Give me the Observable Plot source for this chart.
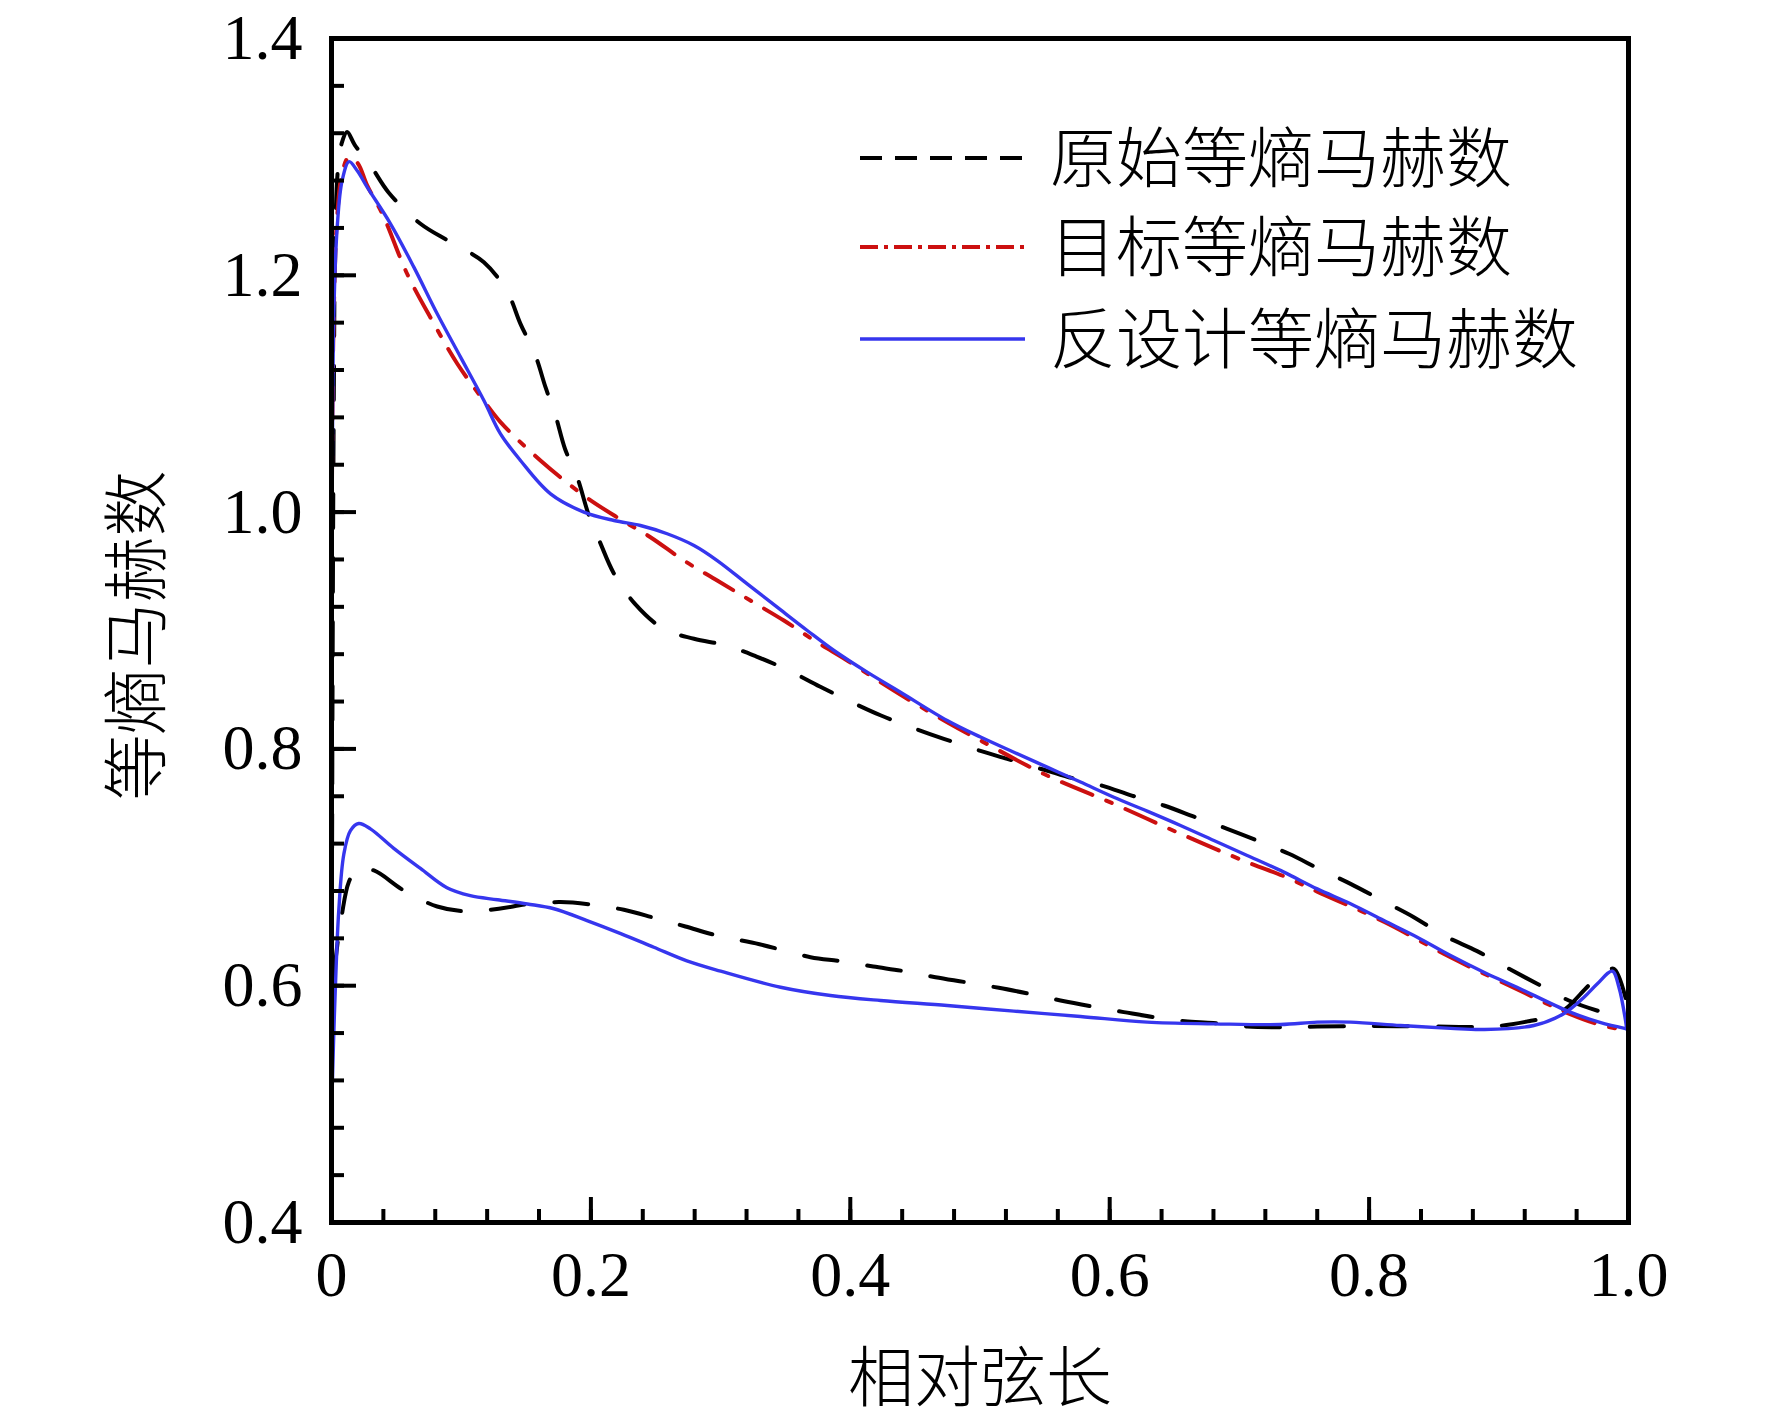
<!DOCTYPE html>
<html><head><meta charset="utf-8">
<script src="https://cdn.jsdelivr.net/npm/d3@7"></script>
<script src="https://cdn.jsdelivr.net/npm/@observablehq/plot@0.6"></script>
<style>body{margin:0;background:#fff} svg{display:block}</style>
</head><body><div id="chart"></div>
<script>
// ---- tick values and labels ----
const xTicks = [0, 0.2, 0.4, 0.6, 0.8, 1.0];
const xTickLabels = ["0", "0.2", "0.4", "0.6", "0.8", "1.0"];
const yTicks = [0.4, 0.6, 0.8, 1.0, 1.2, 1.4];
const yTickLabels = ["0.4", "0.6", "0.8", "1.0", "1.2", "1.4"];
const xMinor = d3.range(0, 26).map(i => i * 0.04);
const yMinor = d3.range(0, 26).map(i => 0.4 + i * 0.04);
const xTitle = "相对弦长";
const yTitle = "等熵马赫数";
const legendLabels = ["原始等熵马赫数", "目标等熵马赫数", "反设计等熵马赫数"];

// ---- series: [relative chord, isentropic Mach] ----
const origUpper = [[0,0.50],[0.0008,0.85],[0.0018,1.10],[0.003,1.24],[0.005,1.29],[0.008,1.312],[0.012,1.321],[0.018,1.31],[0.03,1.293],[0.044,1.27],[0.0686,1.2435],[0.0918,1.228],[0.1175,1.211],[0.1355,1.186],[0.1457,1.159],[0.1573,1.132],[0.165,1.1055],[0.1727,1.0816],[0.18,1.0535],[0.1894,1.0295],[0.1985,0.997],[0.207,0.9746],[0.2178,0.948],[0.234,0.9225],[0.256,0.9014],[0.2795,0.893],[0.3045,0.8873],[0.3277,0.878],[0.3526,0.8662],[0.3765,0.8527],[0.401,0.8395],[0.4237,0.8282],[0.449,0.8175],[0.4721,0.8085],[0.4978,0.7992],[0.521,0.7916],[0.5466,0.7832],[0.5685,0.7761],[0.594,0.769],[0.617,0.7606],[0.6418,0.7522],[0.6662,0.7423],[0.6906,0.7325],[0.7137,0.7226],[0.7382,0.7114],[0.7614,0.6987],[0.7857,0.686],[0.81,0.672],[0.8345,0.6579],[0.8576,0.6424],[0.8833,0.6292],[0.905,0.616],[0.9296,0.6016],[0.954,0.5875],[0.98,0.5776],[1.0,0.572]];
const origLower = [[0,0.50],[0.0015,0.60],[0.004,0.63],[0.008,0.66],[0.0133,0.6874],[0.02,0.699],[0.0327,0.6973],[0.0558,0.6804],[0.0815,0.6669],[0.1046,0.6627],[0.129,0.665],[0.152,0.669],[0.1766,0.6706],[0.1997,0.6686],[0.2254,0.6641],[0.2486,0.6574],[0.2729,0.65],[0.2973,0.6424],[0.33,0.635],[0.3693,0.6241],[0.3925,0.6207],[0.4177,0.6162],[0.4413,0.6123],[0.4657,0.6072],[0.4888,0.603],[0.5145,0.5982],[0.5376,0.5932],[0.5621,0.5875],[0.5865,0.5824],[0.6109,0.5777],[0.634,0.5734],[0.658,0.570],[0.68,0.5685],[0.706,0.5655],[0.7317,0.565],[0.76,0.5655],[0.8,0.566],[0.85,0.5655],[0.88,0.5652],[0.9,0.566],[0.923,0.57],[0.94,0.574],[0.9515,0.5805],[0.9707,0.6016],[0.982,0.611],[0.9887,0.6143],[0.9977,0.590],[1.0,0.572]];
const targetUpper = [[0,0.495],[0.0005,1.05],[0.002,1.18],[0.0044,1.25],[0.008,1.285],[0.0133,1.2997],[0.02,1.295],[0.0275,1.276],[0.04,1.25],[0.0583,1.2013],[0.0776,1.1618],[0.097,1.1253],[0.1175,1.094],[0.1303,1.076],[0.1611,1.0436],[0.1946,1.014],[0.22,0.9957],[0.2459,0.9788],[0.2717,0.9591],[0.2974,0.9422],[0.323,0.9253],[0.3488,0.9084],[0.3745,0.89],[0.3976,0.8747],[0.4233,0.8564],[0.449,0.839],[0.4747,0.8225],[0.5004,0.8071],[0.5518,0.7775],[0.6032,0.7536],[0.6546,0.7283],[0.706,0.7043],[0.7343,0.6925],[0.76,0.6795],[0.8114,0.654],[0.8628,0.624],[0.914,0.597],[0.955,0.576],[0.978,0.567],[1.0,0.562]];
const inverseUpper = [[0,0.49],[0.0003,0.8],[0.0005,1.0],[0.0018,1.1675],[0.0044,1.2406],[0.0082,1.28],[0.0136,1.296],[0.02,1.288],[0.0275,1.2744],[0.0455,1.2435],[0.0635,1.2069],[0.0815,1.1675],[0.0995,1.1309],[0.1175,1.0943],[0.1303,1.0661],[0.1457,1.0436],[0.1689,1.0154],[0.1946,1.0],[0.2178,0.9929],[0.2382,0.9887],[0.2588,0.9817],[0.2795,0.9718],[0.2974,0.9591],[0.3205,0.9394],[0.3436,0.9197],[0.3668,0.9],[0.3874,0.8831],[0.413,0.8648],[0.4387,0.8479],[0.4747,0.824],[0.5004,0.81],[0.5261,0.7972],[0.5518,0.7846],[0.5775,0.772],[0.6032,0.7592],[0.6289,0.7474],[0.6546,0.7353],[0.6803,0.7226],[0.706,0.71],[0.7343,0.6959],[0.76,0.6818],[0.7857,0.6692],[0.8114,0.655],[0.8371,0.641],[0.8628,0.6255],[0.8885,0.6114],[0.914,0.5987],[0.955,0.5777],[0.978,0.569],[0.9985,0.5636]];
const inverseLower = [[0,0.49],[0.0015,0.55],[0.003,0.599],[0.0056,0.6635],[0.0095,0.711],[0.0146,0.731],[0.021,0.737],[0.03,0.7325],[0.048,0.716],[0.0686,0.699],[0.089,0.6827],[0.107,0.676],[0.128,0.6726],[0.151,0.669],[0.1715,0.665],[0.197,0.655],[0.223,0.644],[0.2485,0.6325],[0.274,0.621],[0.3,0.6123],[0.3462,0.5987],[0.3847,0.5917],[0.4233,0.5875],[0.4747,0.5833],[0.5261,0.5785],[0.5775,0.574],[0.6289,0.5692],[0.6803,0.5678],[0.7317,0.5672],[0.76,0.5692],[0.7857,0.5692],[0.8242,0.5664],[0.8628,0.564],[0.888,0.563],[0.927,0.5664],[0.95,0.5763],[0.9655,0.59],[0.976,0.6016],[0.9875,0.6123],[0.9926,0.5987],[0.9977,0.5706],[0.9985,0.5636]];

const BLACK = "#000000", RED = "#cc1010", BLUE = "#3636ee";
const serif = "'Liberation Serif','Times New Roman',serif";
const cjk = "'Noto Sans CJK SC','Noto Sans CJK JP',sans-serif";

const lineOpts = (stroke, width, dash) => ({x: d => d[0], y: d => d[1], stroke, strokeWidth: width, strokeDasharray: dash, curve: "catmull-rom"});

const plot = Plot.plot({
  width: 1772, height: 1419,
  marginLeft: 331, marginRight: 144, marginTop: 38, marginBottom: 197,
  x: {domain: [0, 1]},
  y: {domain: [0.4, 1.4]},
  style: {fontFamily: serif, fontSize: "64px", color: "black", background: "white"},
  marks: [
    Plot.line(origUpper, lineOpts(BLACK, 4, "34,30")),
    Plot.line(origLower, lineOpts(BLACK, 4, "34,30")),
    Plot.line(targetUpper, lineOpts(RED, 4, "33,15,6,15")),
    Plot.line(inverseUpper, lineOpts(BLUE, 3.4, null)),
    Plot.line(inverseLower, lineOpts(BLUE, 3.4, null)),
    Plot.axisX(xMinor, {tickSize: -13, strokeWidth: 4, text: null, label: null}),
    Plot.axisX(xTicks, {tickSize: -25, strokeWidth: 4, text: null, label: null}),
    Plot.axisX(xTicks, {tickSize: 0, tickPadding: 28, tickFormat: d => xTickLabels[xTicks.indexOf(d)], label: null, fontSize: 64, fontFamily: serif}),
    Plot.axisY(yMinor, {tickSize: -13, strokeWidth: 4, text: null, label: null}),
    Plot.axisY(yTicks, {tickSize: -25, strokeWidth: 4, text: null, label: null}),
    Plot.axisY(yTicks, {tickSize: 0, tickPadding: 29, tickFormat: d => yTickLabels[yTicks.indexOf(d)], label: null, fontSize: 64, fontFamily: serif}),
    Plot.frame({stroke: "black", strokeWidth: 5}),
    Plot.text([xTitle], {text: d => d, frameAnchor: "bottom", textAnchor: "middle", dy: 178, fontSize: 66, fontWeight: 300, fontFamily: cjk}),
    Plot.text([yTitle], {text: d => d, frameAnchor: "left", textAnchor: "middle", dx: -193, dy: 5, rotate: -90, fontSize: 66, fontWeight: 300, fontFamily: cjk})
  ]
});

// legend inside the frame
const svg = d3.select(plot);
const legendStyles = [
  {stroke: BLACK, width: 4, dash: "22,13"},
  {stroke: RED, width: 4, dash: "18,6,4,6"},
  {stroke: BLUE, width: 3.5, dash: null}
];
const legendY = [158, 247, 339];
const lg = svg.append("g");
legendLabels.forEach((label, i) => {
  const st = legendStyles[i];
  lg.append("line").attr("x1", 860).attr("x2", 1025).attr("y1", legendY[i]).attr("y2", legendY[i])
    .attr("stroke", st.stroke).attr("stroke-width", st.width).attr("stroke-dasharray", st.dash);
  lg.append("text").attr("x", 1050).attr("y", legendY[i]).attr("dy", "0.36em")
    .attr("text-anchor", "start")
    .attr("font-family", cjk).attr("font-size", 66).attr("font-weight", 300).attr("fill", "black").text(label);
});

document.getElementById("chart").appendChild(plot);
</script>
</body></html>
